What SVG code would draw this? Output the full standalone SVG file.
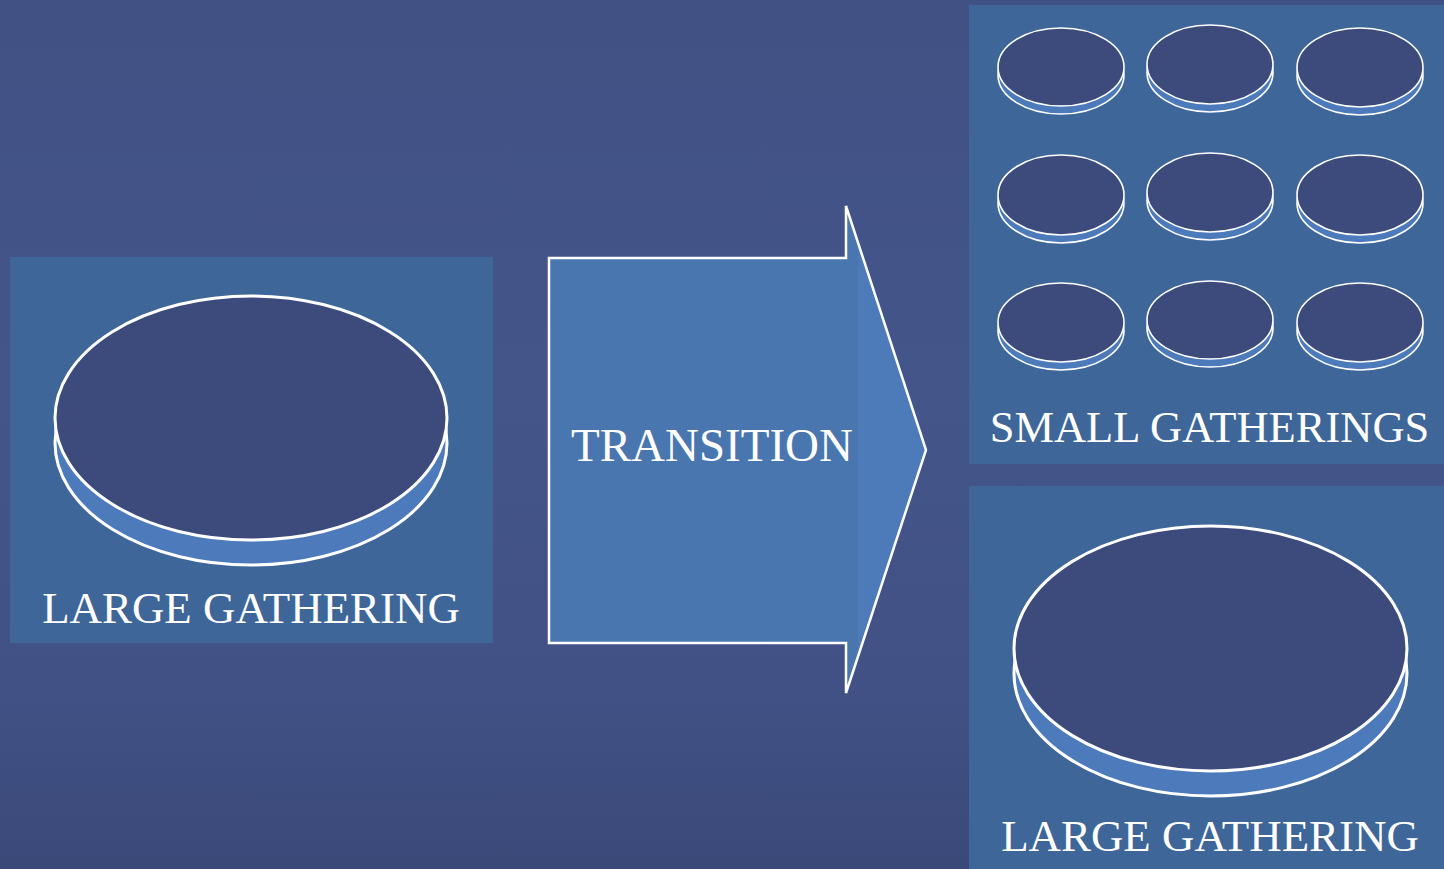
<svg xmlns="http://www.w3.org/2000/svg" width="1444" height="869" viewBox="0 0 1444 869">
  <defs>
    <linearGradient id="bg" x1="0" y1="0" x2="0" y2="1">
      <stop offset="0" stop-color="#415184"/>
      <stop offset="0.45" stop-color="#44558a"/>
      <stop offset="0.8" stop-color="#415185"/>
      <stop offset="1" stop-color="#3a4978"/>
    </linearGradient>
    <style>
      .panel { fill: #3e6699; }
      .rim { fill: #4c7aba; stroke: #ffffff; }
      .top { fill: #3c4b7b; stroke: #ffffff; }
      .big { stroke-width: 3; }
      .small { stroke-width: 1.6; }
      .label { font-family: "Liberation Serif", "Times New Roman", serif; fill: #ffffff; text-anchor: middle; }
    </style>
  </defs>

  <rect x="0" y="0" width="1444" height="869" fill="url(#bg)"/>

  <!-- left: one large gathering -->
  <g id="large-before">
    <rect class="panel" x="10" y="257" width="483" height="386"/>
    <ellipse class="rim big" cx="251" cy="443" rx="196" ry="122"/>
    <ellipse class="top big" cx="251" cy="418" rx="196" ry="122"/>
    <text class="label" x="251" y="623" font-size="44.9">LARGE GATHERING</text>
  </g>

  <!-- centre: transition arrow -->
  <g id="transition">
    <polygon points="549,258 846,258 846,206 926,450 846,693 846,643 549,643" fill="#4a76b0"/>
    <polygon points="858,243 926,450 858,656" fill="#4d7bb9"/>
    <polygon points="549,258 846,258 846,206 926,450 846,693 846,643 549,643" fill="none" stroke="#ffffff" stroke-width="2.5" stroke-linejoin="miter"/>
    <text class="label" x="712" y="461" font-size="47">TRANSITION</text>
  </g>

  <!-- top right: many small gatherings -->
  <g id="small-gatherings">
    <rect class="panel" x="969" y="5" width="475" height="459"/>
    <g id="disc-r1c1"><ellipse class="rim small" cx="1061" cy="75" rx="63" ry="39"/><ellipse class="top small" cx="1061" cy="67" rx="63" ry="39"/></g>
    <g id="disc-r1c2"><ellipse class="rim small" cx="1210" cy="72.5" rx="63" ry="39.5"/><ellipse class="top small" cx="1210" cy="64.5" rx="63" ry="39.5"/></g>
    <g id="disc-r1c3"><ellipse class="rim small" cx="1360" cy="75.5" rx="63" ry="39.5"/><ellipse class="top small" cx="1360" cy="67.5" rx="63" ry="39.5"/></g>
    <g id="disc-r2c1"><ellipse class="rim small" cx="1061" cy="203" rx="63" ry="40"/><ellipse class="top small" cx="1061" cy="195" rx="63" ry="40"/></g>
    <g id="disc-r2c2"><ellipse class="rim small" cx="1210" cy="200.5" rx="63" ry="39.5"/><ellipse class="top small" cx="1210" cy="192.5" rx="63" ry="39.5"/></g>
    <g id="disc-r2c3"><ellipse class="rim small" cx="1360" cy="203" rx="63" ry="40"/><ellipse class="top small" cx="1360" cy="195" rx="63" ry="40"/></g>
    <g id="disc-r3c1"><ellipse class="rim small" cx="1061" cy="330.5" rx="63" ry="39.5"/><ellipse class="top small" cx="1061" cy="322.5" rx="63" ry="39.5"/></g>
    <g id="disc-r3c2"><ellipse class="rim small" cx="1210" cy="328" rx="63" ry="39"/><ellipse class="top small" cx="1210" cy="320" rx="63" ry="39"/></g>
    <g id="disc-r3c3"><ellipse class="rim small" cx="1360" cy="330.5" rx="63" ry="39.5"/><ellipse class="top small" cx="1360" cy="322.5" rx="63" ry="39.5"/></g>
    <text class="label" x="1209.5" y="442" font-size="44.5">SMALL GATHERINGS</text>
  </g>

  <!-- bottom right: large gathering again -->
  <g id="large-after">
    <rect class="panel" x="969" y="486" width="475" height="383"/>
    <ellipse class="rim big" cx="1210.5" cy="673.5" rx="196.5" ry="122.5"/>
    <ellipse class="top big" cx="1210.5" cy="648.5" rx="196.5" ry="122.5"/>
    <text class="label" x="1210" y="851" font-size="44.9">LARGE GATHERING</text>
  </g>

  <g id="connectors"/>
</svg>
